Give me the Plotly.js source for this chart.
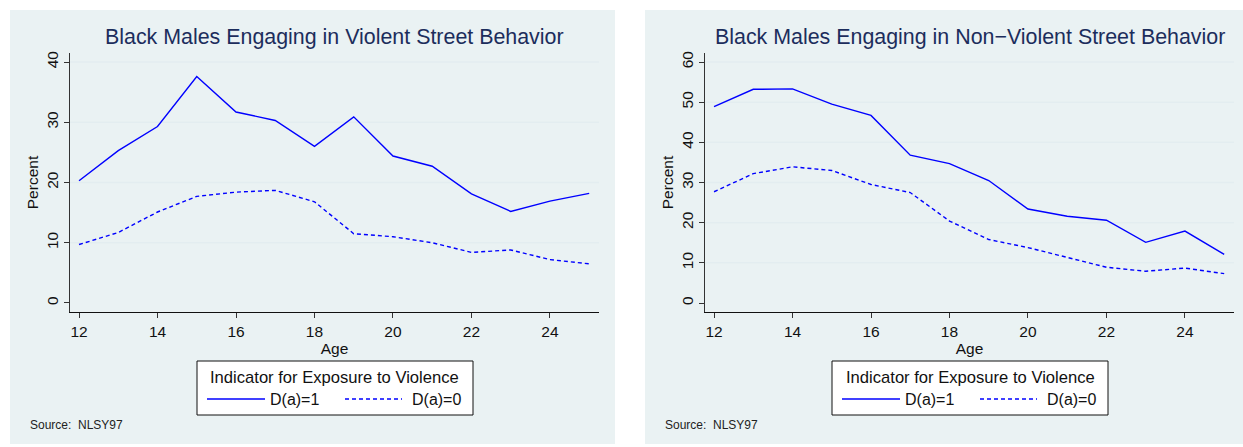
<!DOCTYPE html>
<html>
<head>
<meta charset="utf-8">
<script src="https://cdn.plot.ly/plotly-3.0.1.min.js"></script>
<style>
  html, body { margin: 0; padding: 0; background: #ffffff; }
  #chart { width: 1243px; height: 447px; }
</style>
</head>
<body>
<div id="chart"></div>
<script>
// Share of Black males reporting street behaviour, by age and exposure indicator
const ages = [12, 13, 14, 15, 16, 17, 18, 19, 20, 21, 22, 23, 24, 25];

const violentExposed   = [20.3, 25.3, 29.3, 37.6, 31.7, 30.3, 26.0, 30.9, 24.4, 22.7, 18.1, 15.2, 16.9, 18.2];
const violentUnexposed = [9.7, 11.7, 15.1, 17.7, 18.4, 18.7, 16.8, 11.5, 11.0, 10.0, 8.4, 8.8, 7.2, 6.5];

const nonViolentExposed   = [48.9, 53.2, 53.3, 49.5, 46.7, 36.8, 34.7, 30.5, 23.4, 21.6, 20.6, 15.1, 17.9, 12.1];
const nonViolentUnexposed = [27.7, 32.2, 33.9, 33.0, 29.5, 27.5, 20.4, 15.8, 13.8, 11.4, 8.9, 7.9, 8.7, 7.3];

const xTicks = [12, 14, 16, 18, 20, 22, 24];
const yTicksLeft = [0, 10, 20, 30, 40];
const yTicksRight = [0, 10, 20, 30, 40, 50, 60];

const titleLeft = 'Black Males Engaging in Violent Street Behavior';
const titleRight = 'Black Males Engaging in Non\u2212Violent Street Behavior';
const legendTitle = 'Indicator for Exposure to Violence';
const seriesNames = ['D(a)=1', 'D(a)=0'];
const sourceNote = 'Source:  NLSY97';

const W = 1243, H = 447;
const px = v => v / W;
const py = v => 1 - v / H;

const FONT = '"Liberation Sans", Arial, Helvetica, sans-serif';
const BLUE = '#0000ff';
const DASH = '4px,3px';
const PANEL_BG = '#eaf2f3';
const GRID = '#e3edf0';

// plot-area pixel boxes for the two panels
const boxL = { x0: 70, x1: 599 };
const boxR = { x0: 705, x1: 1234 };
const yTop = 53, yBot = 312;

function lineTrace(y, dashed, xa, ya, name) {
  return {
    x: ages, y: y, type: 'scatter', mode: 'lines', name: name,
    xaxis: xa, yaxis: ya, showlegend: false, hoverinfo: 'x+y',
    line: { color: BLUE, width: 1.4, dash: dashed ? DASH : 'solid' }
  };
}

const data = [
  lineTrace(violentExposed, false, 'x', 'y', seriesNames[0]),
  lineTrace(violentUnexposed, true, 'x', 'y', seriesNames[1]),
  lineTrace(nonViolentExposed, false, 'x2', 'y2', seriesNames[0]),
  lineTrace(nonViolentUnexposed, true, 'x2', 'y2', seriesNames[1])
];

function xAxis(box) {
  return {
    domain: [px(box.x0), px(box.x1)],
    range: [11.77, 25.25],
    tickvals: xTicks, ticktext: xTicks.map(String),
    ticks: 'outside', ticklen: 5, tickwidth: 1, tickcolor: '#333',
    showline: true, linecolor: '#111', linewidth: 1,
    showgrid: false, zeroline: false, fixedrange: true,
    tickfont: { family: FONT, size: 15.5, color: '#111' },
    title: { text: 'Age', font: { family: FONT, size: 15.5, color: '#111' }, standoff: 1 },
    automargin: false
  };
}

function yAxis(range, ticks) {
  return {
    domain: [py(yBot), py(yTop)],
    range: range,
    tickvals: ticks, ticktext: ticks.map(String),
    tickangle: -90,
    ticklabelstandoff: 0,
    ticks: 'outside', ticklen: 5, tickwidth: 1, tickcolor: '#333',
    showline: true, linecolor: '#333', linewidth: 1,
    showgrid: false, zeroline: false, fixedrange: true,
    tickfont: { family: FONT, size: 15.5, color: '#111' },
    title: { text: 'Percent', font: { family: FONT, size: 15.5, color: '#111' }, standoff: 1 },
    automargin: false
  };
}

const shapes = [];
const annotations = [];

// panel backgrounds
shapes.push({ type: 'rect', xref: 'paper', yref: 'paper', layer: 'below',
  x0: px(10), x1: px(615), y0: py(444), y1: py(10), fillcolor: PANEL_BG, line: { width: 0 } });
shapes.push({ type: 'rect', xref: 'paper', yref: 'paper', layer: 'below',
  x0: px(645), x1: px(1243), y0: py(444), y1: py(10), fillcolor: PANEL_BG, line: { width: 0 } });

// horizontal gridlines (none at zero)
yTicksLeft.filter(v => v > 0).forEach(v => shapes.push({
  type: 'line', xref: 'x domain', yref: 'y', layer: 'below', x0: 0, x1: 1, y0: v, y1: v,
  line: { color: GRID, width: 1.5 }
}));
yTicksRight.filter(v => v > 0).forEach(v => shapes.push({
  type: 'line', xref: 'x2 domain', yref: 'y2', layer: 'below', x0: 0, x1: 1, y0: v, y1: v,
  line: { color: GRID, width: 1.5 }
}));

// panel titles
[[titleLeft, boxL], [titleRight, boxR]].forEach(([t, b]) => annotations.push({
  text: t, xref: 'paper', yref: 'paper', x: px((b.x0 + b.x1) / 2), y: py(37),
  xanchor: 'center', yanchor: 'middle', showarrow: false,
  font: { family: FONT, size: 21.4, color: '#1c2d5c' }
}));

// legend box under each panel
function legendBlock(left) {
  const top = 361, bottom = 415, w = 276;
  shapes.push({ type: 'rect', xref: 'paper', yref: 'paper',
    x0: px(left), x1: px(left + w), y0: py(bottom), y1: py(top),
    fillcolor: '#ffffff', line: { color: '#111', width: 1 } });
  annotations.push({ text: legendTitle, xref: 'paper', yref: 'paper',
    x: px(left + w / 2), y: py(377), xanchor: 'center', yanchor: 'middle', showarrow: false,
    font: { family: FONT, size: 16.6, color: '#111' } });
  const entryY = 399;
  shapes.push({ type: 'line', xref: 'paper', yref: 'paper',
    x0: px(left + 10), x1: px(left + 68), y0: py(entryY), y1: py(entryY),
    line: { color: BLUE, width: 1.4 } });
  shapes.push({ type: 'line', xref: 'paper', yref: 'paper',
    x0: px(left + 148), x1: px(left + 205), y0: py(entryY), y1: py(entryY),
    line: { color: BLUE, width: 1.4, dash: DASH } });
  annotations.push({ text: seriesNames[0], xref: 'paper', yref: 'paper',
    x: px(left + 71), y: py(entryY), xanchor: 'left', yanchor: 'middle', showarrow: false,
    font: { family: FONT, size: 16, color: '#111' } });
  annotations.push({ text: seriesNames[1], xref: 'paper', yref: 'paper',
    x: px(left + 213), y: py(entryY), xanchor: 'left', yanchor: 'middle', showarrow: false,
    font: { family: FONT, size: 16, color: '#111' } });
}
legendBlock(197);
legendBlock(832);

// source notes
[28, 663].forEach(x => annotations.push({
  text: sourceNote, xref: 'paper', yref: 'paper', x: px(x), y: py(425),
  xanchor: 'left', yanchor: 'middle', showarrow: false,
  font: { family: FONT, size: 12, color: '#222' }
}));

const layout = {
  width: W, height: H,
  margin: { l: 0, r: 0, t: 0, b: 0, pad: 0 },
  paper_bgcolor: '#ffffff', plot_bgcolor: '#ffffff',
  showlegend: false,
  xaxis: xAxis(boxL),
  yaxis: yAxis([-1.5, 41.5], yTicksLeft),
  xaxis2: Object.assign(xAxis(boxR), { anchor: 'y2' }),
  yaxis2: Object.assign(yAxis([-2.24, 62.24], yTicksRight), { anchor: 'x2' }),
  shapes: shapes,
  annotations: annotations
};
layout.xaxis.anchor = 'y';
layout.yaxis.anchor = 'x';

Plotly.newPlot('chart', data, layout, { staticPlot: true, displayModeBar: false });
</script>
</body>
</html>
